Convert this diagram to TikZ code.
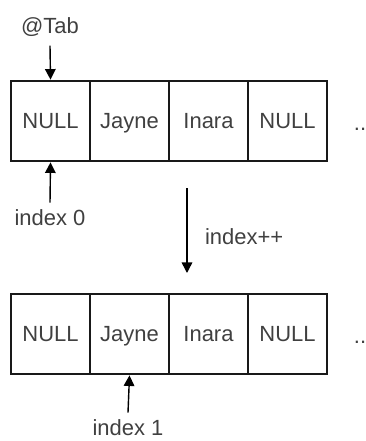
\documentclass[tikz,border=0pt]{standalone}
\usepackage{fontspec}
\setmainfont{Liberation Sans}
\usetikzlibrary{arrows.meta}

\begin{document}
\begin{tikzpicture}[x=0.02cm,y=-0.02cm,
    cell/.style={draw=black!90,line width=1.6pt,minimum width=1.58cm,minimum height=1.6cm,
                 inner sep=0pt,text height=9pt,text depth=0pt,
                 text=black!75,font=\fontsize{12.5}{15}\selectfont},
    lbl/.style={text=black!75,font=\fontsize{12.5}{15}\selectfont,inner sep=1pt},
    ptr/.style={-{Triangle[length=6pt,width=6pt]},line width=0.8pt,draw=black}]
    \useasboundingbox (0,0) rectangle (366,441);

    %%%%% table before %%%%%
    \foreach \t [count=\i] in {NULL,Jayne,Inara,NULL}
        \node[cell] (a\i) at ({50.5+79*(\i-1)},121) {\t};
    \node[lbl,anchor=base] (amore) at (360,130) {..};

    \node[lbl] (tab) at (50,27) {@Tab};
    \draw[ptr] ([yshift=-4pt]tab.south) -- (a1.north);

    \node[lbl] (i0) at (50,218) {index 0};
    \draw[ptr] ([yshift=3pt]i0.north) -- (a1.south);

    %%%%% step %%%%%
    \coordinate (inc0) at (187,188);
    \coordinate (inc1) at (187,273);
    \draw[ptr] (inc0) -- (inc1);
    \node[lbl,anchor=west] (inc) at (203,237) {index++};

    %%%%% table after %%%%%
    \foreach \t [count=\i] in {NULL,Jayne,Inara,NULL}
        \node[cell] (b\i) at ({50.5+79*(\i-1)},334) {\t};
    \node[lbl,anchor=base] (bmore) at (360,343) {..};

    \node[lbl] (i1) at (128,428) {index 1};
    \draw[ptr] ([yshift=3pt]i1.north) -- (b2.south);
\end{tikzpicture}
\end{document}
